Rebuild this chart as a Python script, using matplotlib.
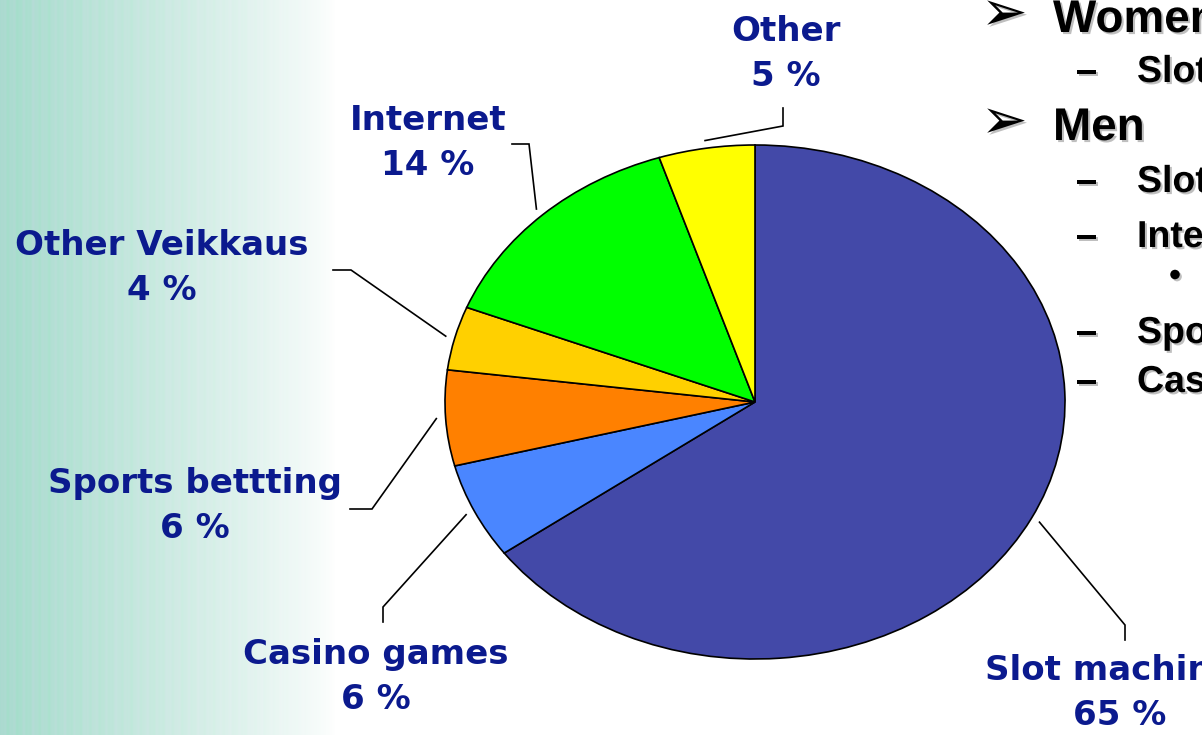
import numpy as np
import matplotlib.pyplot as plt
import matplotlib.patheffects as pe

# Pie data (share of gambling, %)
labels = ["Slot machines", "Casino games", "Sports bettting", "Other Veikkaus", "Internet", "Other"]
shares = [65, 6, 6, 4, 14, 5]
colors = ["#4349A8", "#4A86FF", "#FF8000", "#FFD000", "#00FF00", "#FFFF00"]

# Bullet text on the right side of the slide (cut off by the frame)
bullets = [
    (0, "Women"),
    (1, "Slot machines"),
    (0, "Men"),
    (1, "Slot machines"),
    (1, "Internet"),
    (2, ""),
    (1, "Sports betting"),
    (1, "Casino games"),
]

W, H = 1202, 735
navy = "#0B1A8E"

fig = plt.figure(figsize=(W / 100, H / 100), dpi=100)

# Background: greenish streaky gradient on the left fading to white
bg = fig.add_axes([0, 0, 1, 1])
x = np.arange(W)
fade = np.clip(1 - x / 335.0, 0, 1) ** 0.8
streak = 0.5 + 0.25 * np.sin(x * 0.61) + 0.15 * np.sin(x * 1.37 + 1.0) + 0.1 * np.sin(x * 0.23)
base = np.array([160, 222, 200]) / 255.0
tint = np.array([195, 210, 225]) / 255.0
col = base[None, :] * (1 - 0.45 * streak[:, None]) + tint[None, :] * 0.45 * streak[:, None]
row = 1 - fade[:, None] * (1 - col)
img = np.repeat(row[None, :, :], 4, axis=0)
bg.imshow(img, extent=[0, W, H, 0], aspect="auto")
bg.axis("off")

# Pie axes: different x/y scale so the pie becomes an ellipse
ax = fig.add_axes([0, 0, 1, 1])
ax.patch.set_alpha(0)
cx, cy, rx, ry = 755, 402, 310, 257

def to_data(px, py):
    return (px - cx) / rx, (cy - py) / ry

wedges, _ = ax.pie(shares, colors=colors, startangle=90, counterclock=False,
                   wedgeprops=dict(edgecolor="black", linewidth=1.2))
ax.set_aspect("auto")
ax.set_xlim(-cx / rx, (W - cx) / rx)
ax.set_ylim((cy - H) / ry, cy / ry)
ax.axis("off")

# leader lines: elbow and end points (pixels) per slice
elbows = [(1125, 625), (383, 607), (372, 509), (351, 270), (529, 144), (783, 126)]
ends = [(1125, 640), (383, 622), (350, 509), (333, 270), (512, 144), (783, 108)]
label_pos = [(1120, 693), (376, 677), (195, 506), (162, 268), (428, 143), (786, 54)]

for w, name, share, el, en, lp in zip(wedges, labels, shares, elbows, ends, label_pos):
    t = np.deg2rad((w.theta1 + w.theta2) / 2)
    sx, sy = 1.03 * np.cos(t), 1.03 * np.sin(t)
    ex, ey = to_data(*el)
    nx, ny = to_data(*en)
    ax.plot([sx, ex, nx], [sy, ey, ny], color="black", lw=1.2, solid_joinstyle="miter")
    lx, ly = to_data(*lp)
    ax.text(lx, ly, f"{name}\n{share} %", ha="center", va="center", color=navy,
            fontsize=24.5, fontweight="bold", family="DejaVu Sans", linespacing=1.45)

# right-hand bullet list
shadow = [pe.withSimplePatchShadow(offset=(1.5, -1.5), shadow_rgbFace="gray", alpha=0.5)]
baselines = [32, 82, 140, 192, 247, 0, 343, 392]
for (level, text), yb in zip(bullets, baselines):
    if level == 0:
        fig.text(981 / W, 1 - (yb - 17) / H, "\u27a2", fontsize=40, family="DejaVu Sans",
                 va="center", ha="left", color="black", path_effects=shadow)
        fig.text(1053 / W, 1 - yb / H, text, fontsize=33, fontweight="bold",
                 family="Liberation Sans", va="baseline", ha="left", path_effects=shadow)
    elif level == 1:
        fig.text(1076 / W, 1 - yb / H, "\u2013", fontsize=27, fontweight="bold",
                 family="Liberation Sans", va="baseline", ha="left", path_effects=shadow)
        fig.text(1137 / W, 1 - yb / H, text, fontsize=27, fontweight="bold",
                 family="Liberation Sans", va="baseline", ha="left", path_effects=shadow)
    else:
        fig.text(1175 / W, 1 - 277 / H, "\u2022", fontsize=24, fontweight="bold",
                 family="Liberation Sans", va="center", ha="center", path_effects=shadow)

fig.savefig("out.png", dpi=100)
